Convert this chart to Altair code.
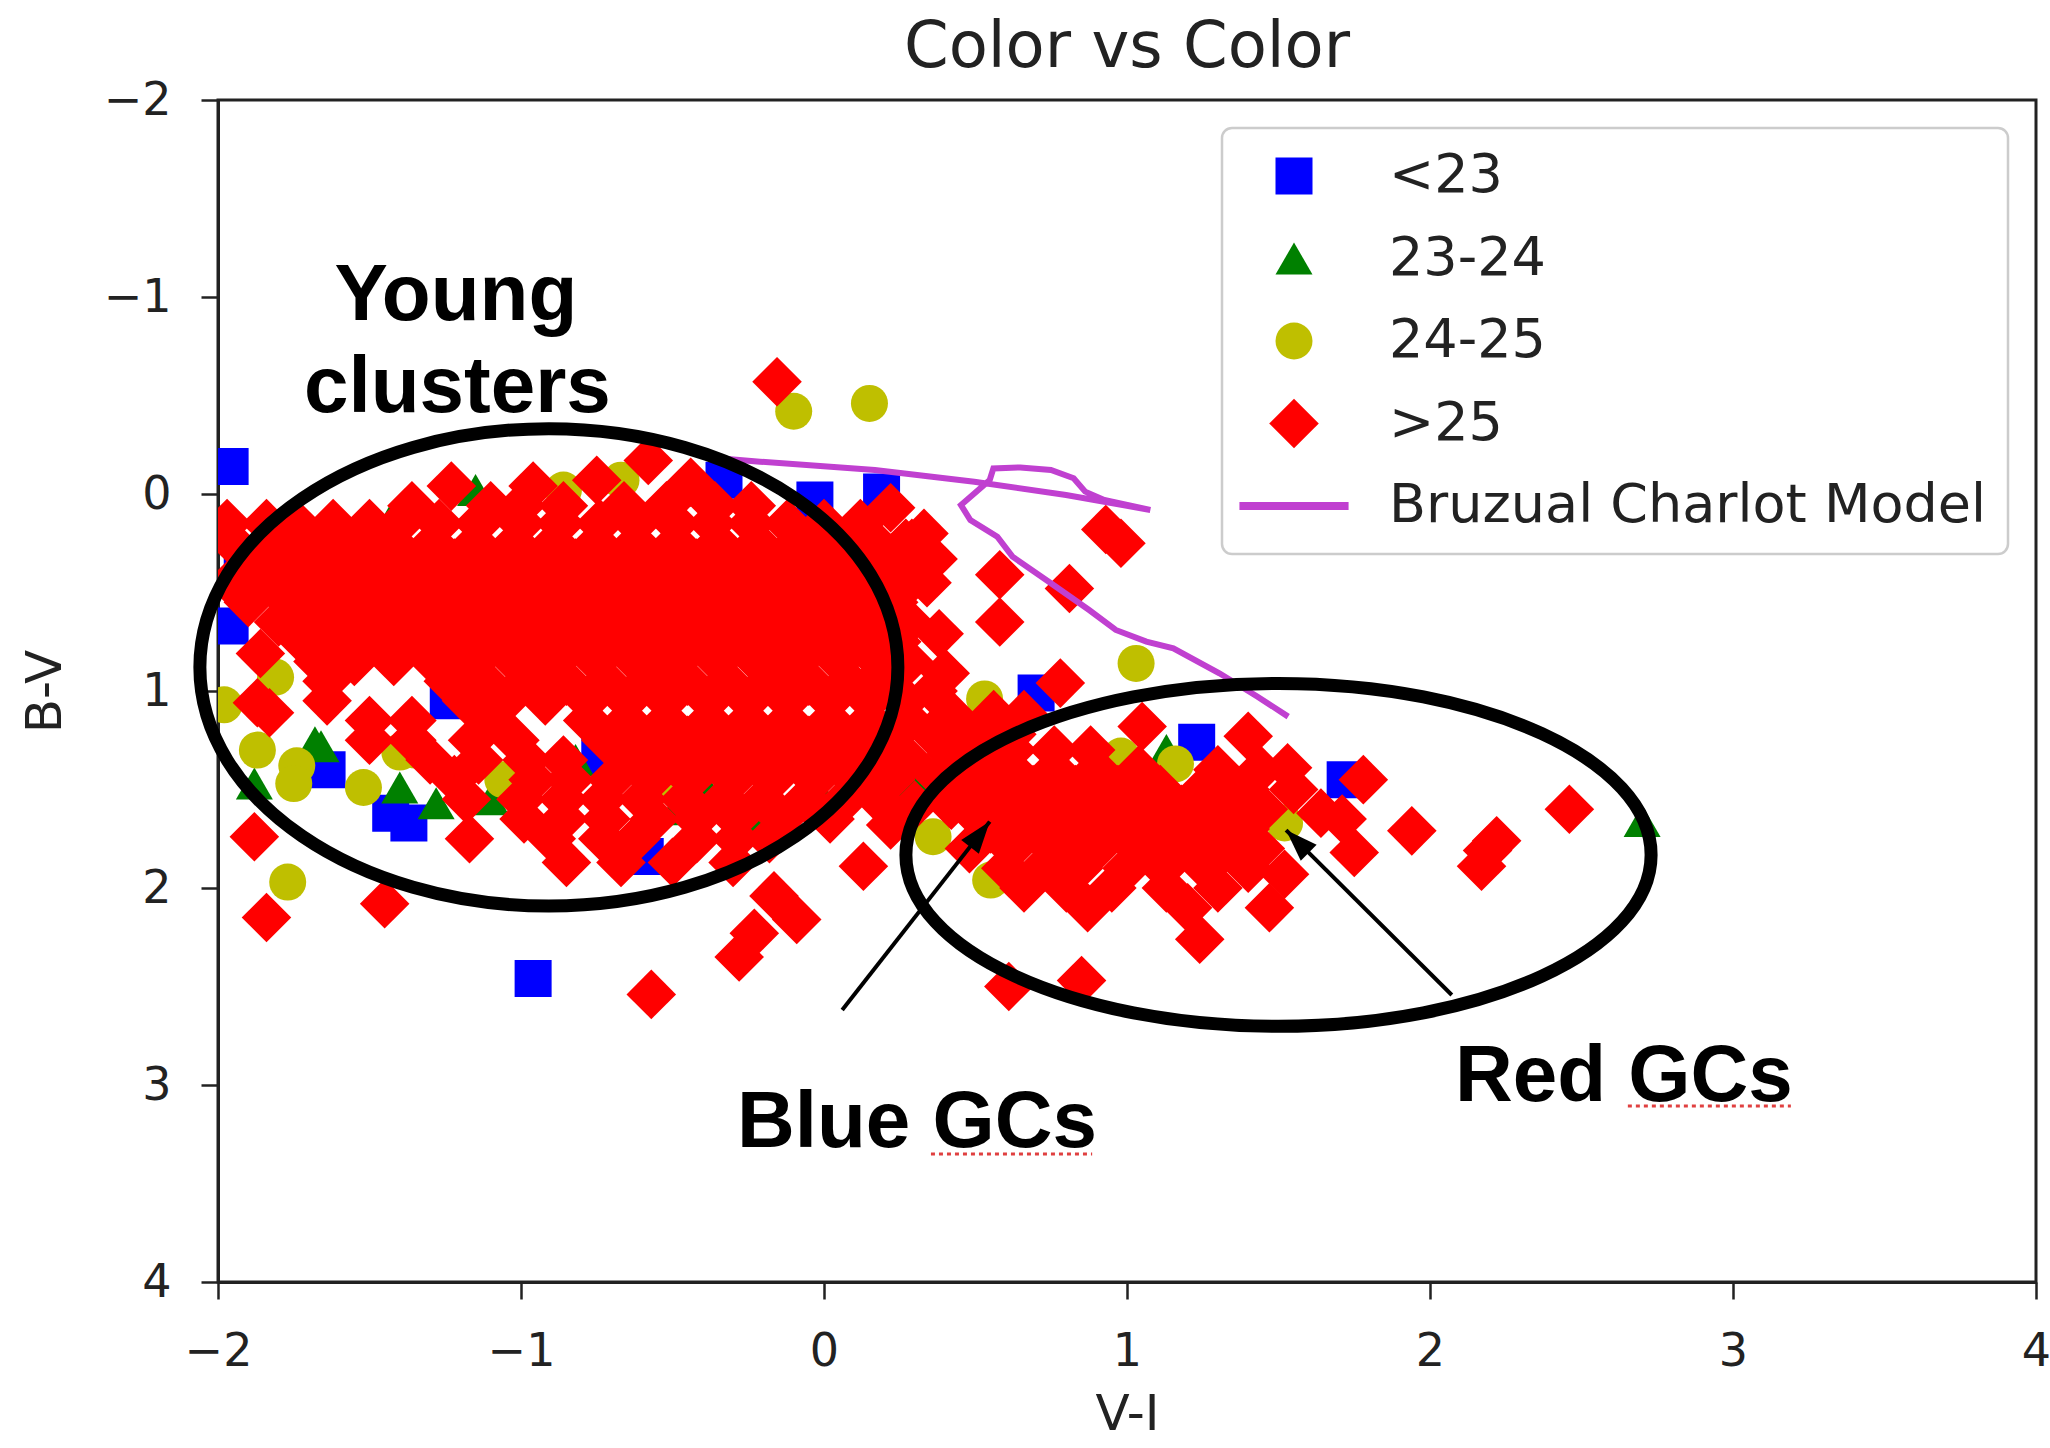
import altair as alt
import pandas as pd

# ---------------- data ----------------
categories = ["<23", "23-24", "24-25", ">25", "Bruzual Charlot Model"]
cat_colors = ["#0000ff", "#008000", "#bfbf00", "#ff0000", "#c040d0"]
DIAMOND = "M -1.34 0 L 0 -1.34 L 1.34 0 L 0 1.34 Z"
LINE_KEY = "M -2.95 -0.22 L 2.95 -0.22 L 2.95 0.22 L -2.95 0.22 Z"
cat_shapes = ["square", "triangle-up", "circle", DIAMOND, LINE_KEY]

x_ticks = [-2, -1, 0, 1, 2, 3, 4]
y_ticks = [-2, -1, 0, 1, 2, 3, 4]

# (V-I, B-V) pairs
lt23_pts = [
    (-1.96, -0.14), (-1.96, 0.67), (-1.92, 0.37), (-0.33, -0.07), (-0.03, 0.03), (0.19, -0.01),
    (-0.04, 0.21), (-1.24, 1.05), (-1.64, 1.40), (-1.43, 1.62), (-1.37, 1.67), (-0.96, 2.46),
    (-0.59, 1.84), (-0.74, 1.33), (-1.05, 1.47), (0.70, 1.01), (1.23, 1.26), (1.72, 1.45), (0.27, 1.49),
]
g2324_pts = [
    (-1.15, -0.02), (-1.43, 0.13), (-1.83, 0.37), (-1.66, 1.28), (-1.40, 1.49), (-1.88, 1.47),
    (-1.28, 1.57), (-1.10, 1.55), (-0.82, 1.35), (-0.49, 1.60), (-0.22, 1.69), (-0.39, 1.49),
    (0.30, 1.43), (-0.02, 1.50), (1.13, 1.30), (2.70, 1.66), (0.27, 1.55), (-1.68, 1.26),
]
g2425_pts = [
    (-0.10, -0.42), (0.15, -0.46), (-0.86, -0.02), (-0.67, -0.07), (-1.81, 0.93), (-1.98, 1.07),
    (-1.87, 1.30), (-1.74, 1.38), (-1.75, 1.47), (-1.52, 1.49), (-1.40, 1.31), (-1.35, 1.30),
    (-1.06, 1.45), (-0.56, 1.49), (-1.77, 1.97), (1.03, 0.86), (0.53, 1.04), (0.98, 1.33),
    (1.16, 1.37), (1.52, 1.67), (0.36, 1.74), (0.55, 1.96),
]
gt25_sparse = [
    (-0.155, -0.57), (-0.58, -0.17), (-1.23, -0.04), (-0.96, -0.04), (-0.75, -0.07), (-0.44, -0.06),
    (0.22, 0.07), (0.29, 0.25), (0.14, 0.34), (0.34, 0.45), (0.58, 0.41), (0.58, 0.65), (0.93, 0.18),
    (0.98, 0.25), (0.81, 0.48), (0.38, 0.71), (0.40, 0.91), (0.19, 0.91), (0.78, 0.96), (1.05, 1.18),
    (1.40, 1.23), (1.53, 1.39), (-1.86, 0.81), (-1.87, 1.06), (-1.83, 1.11), (-1.88, 1.74),
    (-1.84, 2.15), (-1.45, 2.08), (-0.57, 2.54), (-0.28, 2.35), (-0.23, 2.23), (-0.165, 2.04),
    (-0.09, 2.16), (0.13, 1.89), (0.61, 2.50), (0.85, 2.47), (1.24, 2.26), (1.47, 2.10), (1.52, 1.93),
    (1.94, 1.71), (2.19, 1.81), (2.17, 1.89), (2.22, 1.76), (2.46, 1.60), (1.78, 1.45), (1.71, 1.65),
    (1.75, 1.82), (1.64, 1.62), (0.33, 0.20), (0.36, 0.33),
]
# dense parts: (B-V, [V-I, ...])
gt25_rows = [
    (0.06, [-1.36, -1.10, -1.00, -0.86, -0.66, -0.52, -0.36, -0.24]),
    (0.15, [-1.97, -1.84, -1.74, -1.62, -1.50, -1.40, -1.27, -1.14, -1.00, -0.87, -0.74, -0.62, -0.49, -0.37, -0.24, -0.12, 0.00, 0.12]),
    (0.25, [-1.95, -1.82, -1.69, -1.55, -1.42, -1.29, -1.15, -1.02, -0.89, -0.75, -0.62, -0.49, -0.35, -0.22, -0.09, 0.05, 0.17, 0.27]),
    (0.35, [-1.89, -1.76, -1.62, -1.49, -1.36, -1.22, -1.09, -0.96, -0.82, -0.69, -0.56, -0.42, -0.29, -0.16, -0.02, 0.11, 0.23]),
    (0.45, [-1.96, -1.83, -1.69, -1.56, -1.43, -1.29, -1.16, -1.03, -0.89, -0.76, -0.63, -0.49, -0.36, -0.23, -0.09, 0.04, 0.17, 0.28]),
    (0.55, [-1.90, -1.76, -1.63, -1.50, -1.36, -1.23, -1.10, -0.96, -0.83, -0.70, -0.56, -0.43, -0.30, -0.16, -0.03, 0.10, 0.23]),
    (0.65, [-1.80, -1.69, -1.56, -1.43, -1.29, -1.16, -1.03, -0.89, -0.76, -0.63, -0.49, -0.36, -0.23, -0.09, 0.04, 0.17, 0.28]),
    (0.75, [-1.72, -1.62, -1.49, -1.36, -1.22, -1.09, -0.96, -0.82, -0.69, -0.56, -0.42, -0.29, -0.16, -0.02, 0.11, 0.24]),
    (0.85, [-1.67, -1.55, -1.42, -1.29, -1.15, -1.02, -0.89, -0.75, -0.62, -0.49, -0.35, -0.22, -0.09, 0.05, 0.18, 0.28]),
    (0.95, [-1.64, -1.24, -1.12, -0.98, -0.85, -0.72, -0.58, -0.45, -0.32, -0.18, -0.05, 0.08, 0.21]),
    (1.05, [-1.64, -1.18, -1.05, -0.92, -0.78, -0.65, -0.52, -0.38, -0.25, -0.12, 0.02, 0.15, 0.27]),
    (1.15, [-1.50, -1.36, -1.10, -0.78, -0.65, -0.52, -0.38, -0.25, -0.12, 0.02, 0.15, 0.28]),
    (1.25, [-1.50, -1.36, -1.16, -1.02, -0.72, -0.58, -0.45, -0.32, -0.18, -0.05, 0.08, 0.21]),
    (1.35, [-1.30, -1.14, -0.98, -0.86, -0.65, -0.52, -0.38, -0.25, -0.12, 0.02, 0.15, 0.28]),
    (1.45, [-1.22, -0.96, -0.84, -0.70, -0.57, -0.44, -0.30, -0.17, -0.03, 0.10, 0.22]),
    (1.55, [-1.18, -1.00, -0.86, -0.73, -0.60, -0.46, -0.33, -0.20, -0.06, 0.07, 0.18]),
    (1.65, [-0.99, -0.86, -0.72, -0.56, -0.42, -0.29, -0.14, 0.02]),
    (1.75, [-1.17, -0.90, -0.73, -0.62, -0.42, -0.29, -0.18]),
    (1.87, [-0.85, -0.67, -0.50, -0.30]),
    (1.00, [0.36]),
    (1.12, [0.42, 0.56, 0.66]),
    (1.22, [0.36, 0.50, 0.62]),
    (1.32, [0.42, 0.56]),
    (1.44, [0.38, 0.52]),
    (1.58, [0.30, 0.42]),
    (1.68, [0.22]),
    (1.30, [0.62, 0.76, 0.88]),
    (1.40, [0.48, 0.62, 0.76, 0.90, 1.04, 1.30, 1.44]),
    (1.50, [0.42, 0.55, 0.69, 0.83, 0.97, 1.11, 1.25, 1.39, 1.55]),
    (1.60, [0.48, 0.62, 0.76, 0.90, 1.04, 1.18, 1.32, 1.45]),
    (1.70, [0.55, 0.69, 0.83, 0.97, 1.11, 1.25, 1.39]),
    (1.80, [0.48, 0.62, 0.76, 0.90, 1.04, 1.18, 1.32, 1.44]),
    (1.90, [0.60, 0.72, 0.84, 1.00, 1.12, 1.26, 1.40]),
    (2.00, [0.66, 0.80, 0.95, 1.13, 1.30]),
    (2.10, [0.87, 1.20]),
]

# Bruzual & Charlot model track
model_vi = [-0.376, -0.211, 0.168, 0.496, 0.799, 1.077, 0.925, 0.862, 0.824, 0.749, 0.648, 0.559,
            0.547, 0.496, 0.452, 0.483, 0.572, 0.622, 0.749, 0.875, 0.963, 1.064, 1.153, 1.305,
            1.431, 1.532]
model_bv = [-0.185, -0.164, -0.122, -0.062, 0.005, 0.081, 0.030, -0.012, -0.080, -0.122, -0.135,
            -0.130, -0.071, -0.003, 0.056, 0.132, 0.217, 0.318, 0.453, 0.589, 0.690, 0.749, 0.783,
            0.910, 1.029, 1.130]

# annotations
ann_text = ["Young", "clusters", "Blue GCs", "Red GCs"]
ann_vi = [-1.215, -1.21, 0.307, 2.640]
ann_bv = [-0.883, -0.416, 3.315, 3.081]

ell_vi = [-0.908, 1.500]
ell_bv = [0.880, 1.832]
ell_shape = [
    "M 1 0 C 1 0.378 0.552 0.684 0 0.684 C -0.552 0.684 -1 0.378 -1 0 C -1 -0.378 -0.552 -0.684 0 -0.684 C 0.552 -0.684 1 -0.378 1 0 Z",
    "M 1 0 C 1 0.254 0.552 0.46 0 0.46 C -0.552 0.46 -1 0.254 -1 0 C -1 -0.254 -0.552 -0.46 0 -0.46 C 0.552 -0.46 1 -0.254 1 0 Z",
]
ell_size = [487204, 555323]

arrow_vi0 = [0.060, 2.072]
arrow_bv0 = [2.619, 2.543]
arrow_vi1 = [0.547, 1.525]
arrow_bv1 = [1.663, 1.706]
arrow_angle = [38, 315]
ARROW_HEAD = "M 0 0 L -0.35 1 L 0.35 1 Z"

ul_vi0 = [0.353, 2.653]
ul_vi1 = [0.885, 3.191]
ul_bv = [3.350, 3.107]

# ---------------- tables ----------------
gt25_pts = list(gt25_sparse)
for bv, xs in gt25_rows:
    for vi in xs:
        gt25_pts.append((vi, bv))

recs = []
for cat, pts in zip(categories[:4], [lt23_pts, g2324_pts, g2425_pts, gt25_pts]):
    for vi, bv in pts:
        recs.append({"vi": vi, "bv": bv, "cat": cat})
pts_df = pd.DataFrame(recs)

model_df = pd.DataFrame({"vi": model_vi, "bv": model_bv, "i": list(range(len(model_vi)))})
ann_df = pd.DataFrame({"vi": ann_vi, "bv": ann_bv, "t": ann_text})
ell_df = pd.DataFrame({"vi": ell_vi, "bv": ell_bv, "shape": ell_shape, "size": ell_size})
arr_df = pd.DataFrame({"vi0": arrow_vi0, "bv0": arrow_bv0, "vi1": arrow_vi1, "bv1": arrow_bv1,
                       "ang": arrow_angle})
ul_df = pd.DataFrame({"vi0": ul_vi0, "vi1": ul_vi1, "bv": ul_bv})

xscale = alt.Scale(domain=[-2, 4], nice=False, zero=False)
yscale = alt.Scale(domain=[-2, 4], nice=False, zero=False, reverse=True)
XT = "V-I"
YT = "B-V"

points = alt.Chart(pts_df).mark_point(filled=True, opacity=1, size=1369, clip=True).encode(
    x=alt.X("vi:Q", scale=xscale, title=XT,
            axis=alt.Axis(values=x_ticks, format="d", labelPadding=30, titlePadding=15,
                          labelFlush=False, labelOverlap=False)),
    y=alt.Y("bv:Q", scale=yscale, title=YT,
            axis=alt.Axis(values=y_ticks, format="d", labelPadding=30, titlePadding=33,
                          labelFlush=False, labelOverlap=False)),
    color=alt.Color("cat:N", scale=alt.Scale(domain=categories, range=cat_colors),
                    legend=alt.Legend(title=None)),
    shape=alt.Shape("cat:N", scale=alt.Scale(domain=categories, range=cat_shapes),
                    legend=alt.Legend(title=None)),
)

model = alt.Chart(model_df).mark_line(color="#c040d0", strokeWidth=6).encode(
    x=alt.X("vi:Q", scale=xscale, title=XT),
    y=alt.Y("bv:Q", scale=yscale, title=YT),
    order="i:Q",
)

ellipses = alt.Chart(ell_df).mark_point(filled=False, color="black", strokeWidth=13, opacity=1).encode(
    x=alt.X("vi:Q", scale=xscale, title=XT),
    y=alt.Y("bv:Q", scale=yscale, title=YT),
    shape=alt.Shape("shape:N", scale=None, legend=None),
    size=alt.Size("size:Q", scale=None, legend=None),
)

arrow_lines = alt.Chart(arr_df).mark_rule(color="black", strokeWidth=4).encode(
    x=alt.X("vi0:Q", scale=xscale, title=XT),
    y=alt.Y("bv0:Q", scale=yscale, title=YT),
    x2="vi1:Q",
    y2="bv1:Q",
)

arrow_heads = alt.Chart(arr_df).mark_point(filled=True, color="black", size=4096, opacity=1,
                                           shape=ARROW_HEAD).encode(
    x=alt.X("vi1:Q", scale=xscale, title=XT),
    y=alt.Y("bv1:Q", scale=yscale, title=YT),
    angle=alt.Angle("ang:Q", scale=None),
)

underline = alt.Chart(ul_df).mark_rule(color="#e04040", strokeWidth=3, strokeDash=[4, 4]).encode(
    x=alt.X("vi0:Q", scale=xscale, title=XT),
    x2="vi1:Q",
    y=alt.Y("bv:Q", scale=yscale, title=YT),
)

texts = alt.Chart(ann_df).mark_text(font="Liberation Sans", fontWeight="bold", fontSize=80,
                                    color="black", align="center", baseline="alphabetic").encode(
    x=alt.X("vi:Q", scale=xscale, title=XT),
    y=alt.Y("bv:Q", scale=yscale, title=YT),
    text="t:N",
)

chart = alt.layer(points, model, ellipses, arrow_lines, arrow_heads, underline, texts).properties(
    width=1818,
    height=1182,
    title=alt.TitleParams("Color vs Color", font="DejaVu Sans", fontSize=64, fontWeight="normal",
                          color="#222222", anchor="middle", offset=-3),
    autosize=alt.AutoSizeParams(type="none"),
    padding={"left": 218, "top": 100, "right": 14, "bottom": 166},
).configure_view(
    stroke="#222222", strokeWidth=3
).configure_axis(
    domainColor="#222222", domainWidth=3, tickColor="#222222", tickWidth=2.5, tickSize=17,
    labelFont="DejaVu Sans", labelFontSize=46, labelColor="#222222",
    titleFont="DejaVu Sans", titleFontSize=50, titleFontWeight="normal", titleColor="#222222",
    grid=False,
).configure_legend(
    orient="top-right", offset=28, padding=21,
    labelFont="DejaVu Sans", labelFontSize=54, labelColor="#222222", labelLimit=1000,
    symbolSize=1369, symbolStrokeWidth=0, symbolOffset=24, labelOffset=68, rowPadding=28.5,
    strokeColor="#cccccc", strokeWidth=2.5, fillColor="white", cornerRadius=10,
)

chart.save("out.html", embed_options={"renderer": "svg", "actions": False})
